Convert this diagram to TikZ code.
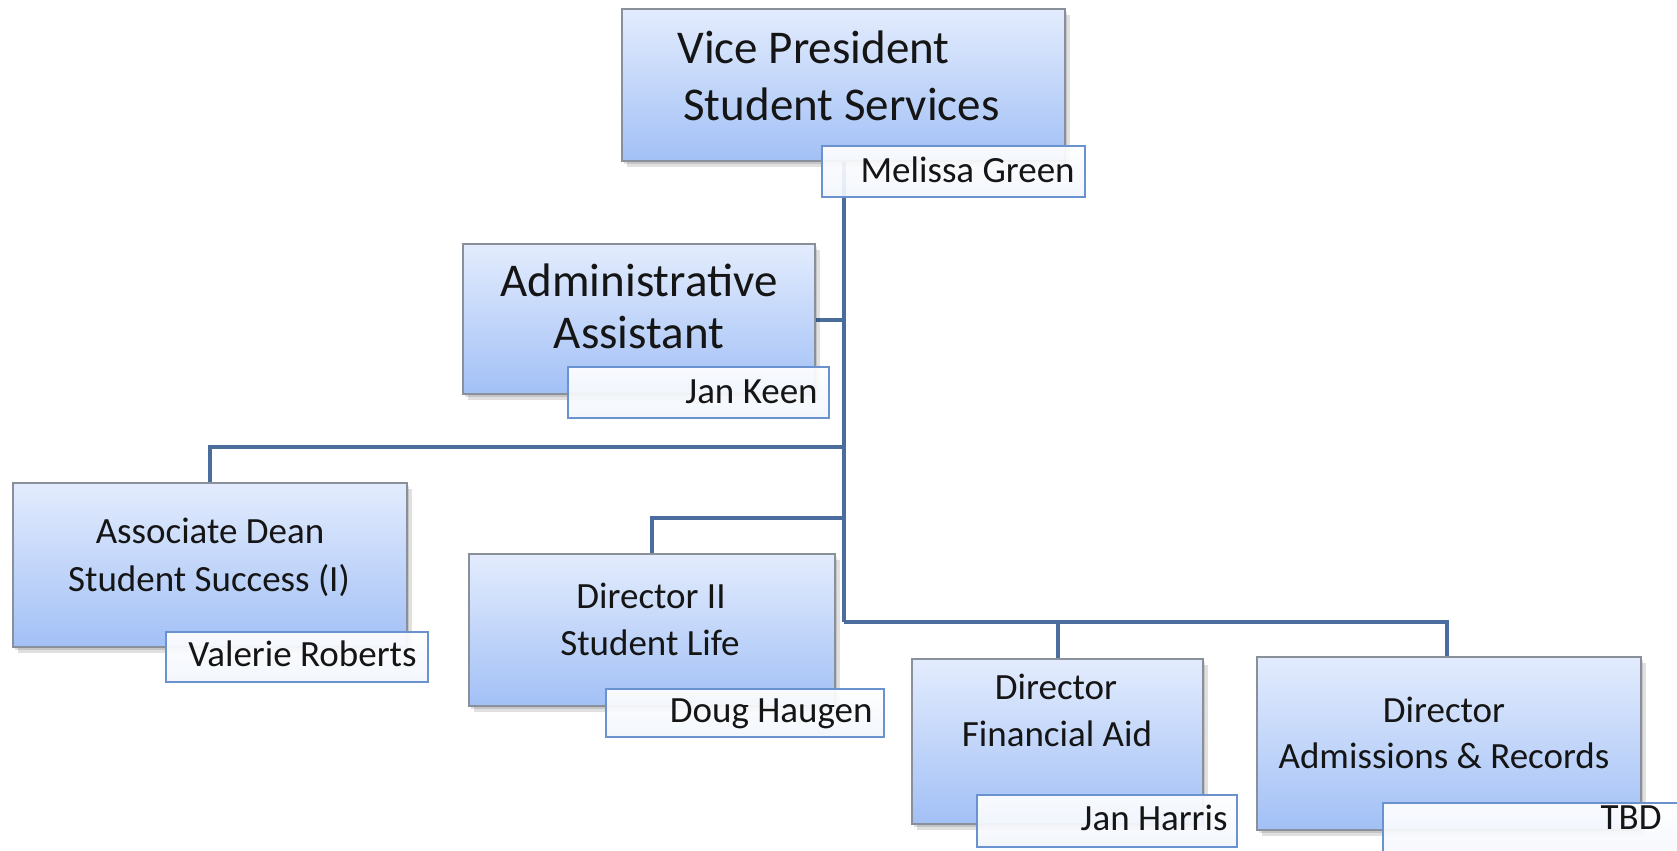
\documentclass[tikz,border=0pt]{standalone}
\usepackage{fontspec}
\setmainfont{Carlito}
\usetikzlibrary{shadows}
\definecolor{boxtop}{HTML}{E3ECFD}
\definecolor{boxbot}{HTML}{A2C0F6}
\definecolor{boxborder}{HTML}{8A9099}
\definecolor{nameborder}{HTML}{6A92CF}
\definecolor{namebot}{HTML}{F1F5FC}
\definecolor{linecol}{HTML}{4A6D9E}
\definecolor{textcol}{HTML}{151515}
\begin{document}
\begin{tikzpicture}[x=0.5pt,y=-0.5pt,
  unitbox/.style={draw=boxborder, line width=0.8pt, top color=boxtop, bottom color=boxbot,
    double copy shadow={shadow xshift=1.2pt, shadow yshift=-1.6pt, opacity=0.12, fill=black, draw=none},
    inner sep=0, outer sep=0},
  namebox/.style={draw=nameborder, line width=0.8pt, top color=white, bottom color=namebot,
    fill opacity=0.92, inner sep=0, outer sep=0},
  conn/.style={draw=linecol, line width=2pt},
  bigtext/.style={font=\fontsize{23.5}{28}\selectfont, inner sep=0, text=textcol},
  midtext/.style={font=\fontsize{18.5}{22}\selectfont, inner sep=0, text=textcol},
]
\useasboundingbox (0,0) rectangle (1677,851);

% junction points on the trunk
\coordinate (jAdmin) at (843.5,320);
\coordinate (jAssoc) at (843.5,447);
\coordinate (jDir) at (843.5,518);
\coordinate (jBot) at (843.5,622);

% connectors
\draw[conn] (843.5,161) -- (jBot);
\draw[conn] (815,320) -- (jAdmin);
\draw[conn] (210,483) |- (jAssoc);
\draw[conn] (652,554) |- (jDir);
\draw[conn] (1057.5,659) |- (jBot);
\draw[conn] (1447,657) |- (jBot);

% unit boxes
\node[unitbox, minimum width=221.5pt, minimum height=76pt] (vp) at (843.5,85) {};
\node[unitbox, minimum width=176pt, minimum height=75pt] (admin) at (639,319) {};
\node[unitbox, minimum width=197pt, minimum height=82pt] (assoc) at (210,565) {};
\node[unitbox, minimum width=183pt, minimum height=76pt] (dir2) at (652,630) {};
\node[unitbox, minimum width=145.5pt, minimum height=82.5pt] (fa) at (1057.5,741.5) {};
\node[unitbox, minimum width=192pt, minimum height=86.5pt] (adm) at (1449,743.5) {};

% titles
\node[bigtext, anchor=base west] (vpt1) at (677,63) {Vice President};
\node[bigtext, anchor=base west] (vpt2) at (683,120) {Student Services};
\node[bigtext, anchor=base] (adt1) at (639,296) {Administrative};
\node[bigtext, anchor=base] (adt2) at (639,348) {Assistant};
\node[midtext, anchor=base] (ast1) at (210,543) {Associate Dean};
\node[midtext, anchor=base] (ast2) at (209,591) {Student Success (I)};
\node[midtext, anchor=base] (d2t1) at (651,608) {Director II};
\node[midtext, anchor=base] (d2t2) at (650,655) {Student Life};
\node[midtext, anchor=base] (fat1) at (1056,699) {Director};
\node[midtext, anchor=base] (fat2) at (1057,746) {Financial Aid};
\node[midtext, anchor=base] (amt1) at (1444,722) {Director};
\node[midtext, anchor=base] (amt2) at (1444,768) {Admissions \& Records};

% name boxes
\node[namebox, minimum width=131.5pt, minimum height=25.5pt] (mg) at (953.5,171.5) {};
\node[namebox, minimum width=130.5pt, minimum height=25.5pt] (jk) at (698.5,392.5) {};
\node[namebox, minimum width=131pt, minimum height=25pt] (vr) at (297,657) {};
\node[namebox, minimum width=139pt, minimum height=24pt] (dh) at (745,713) {};
\node[namebox, minimum width=130pt, minimum height=26pt] (jh) at (1107,821) {};
\node[namebox, minimum width=200pt, minimum height=34pt] (tb) at (1583,837) {};

\node[midtext, anchor=base east] (mgt) at (1075,182) {Melissa Green};
\node[midtext, anchor=base east] (jkt) at (818,403) {Jan Keen};
\node[midtext, anchor=base east] (vrt) at (417,666) {Valerie Roberts};
\node[midtext, anchor=base east] (dht) at (873,722) {Doug Haugen};
\node[midtext, anchor=base east] (jht) at (1228,830) {Jan Harris};
\node[midtext, anchor=base east] (tbt) at (1662,829) {TBD};
\end{tikzpicture}
\end{document}
